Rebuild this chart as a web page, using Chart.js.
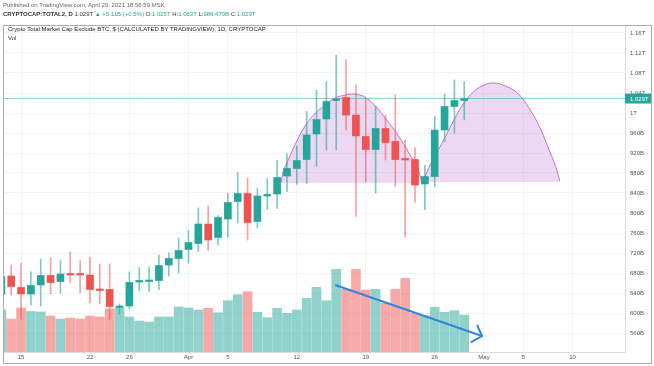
<!DOCTYPE html>
<html>
<head>
<meta charset="utf-8">
<script src="https://cdn.jsdelivr.net/npm/chart.js@4.4.1/dist/chart.umd.min.js"></script>
<style>
    body { margin: 0; background: #fff; font-family: "Liberation Sans", Arial, sans-serif; }
    #wrap { position: relative; width: 654px; height: 366px; overflow: hidden; }
    #chart { position: absolute; left: 0; top: 0; }
    .t { position: absolute; white-space: nowrap; line-height: 1; }
    .g { color: #26a69a; }
    #panel { position: absolute; left: 3px; top: 25px; width: 649px; height: 339px; box-sizing: border-box;
             border: 1px solid #a9acb3; pointer-events: none; }
</style>
</head>
<body>
<div id="wrap">
    <canvas id="chart" width="654" height="366"></canvas>
    <div id="panel"></div>
    <div class="t" style="left:3px;top:2px;font-size:6px;color:#666">Published on TradingView.com, April 29, 2021 18:56:59 MSK</div>
    <div class="t" style="left:3px;top:11px;font-size:6px;color:#333"><b>CRYPTOCAP:TOTAL2, D</b> 1.029T <span class="g">&#9650; +5.11B (+0.5%)</span> O:<span class="g">1.025T</span> H:<span class="g">1.063T</span> L:<span class="g">986.479B</span> C:<span class="g">1.029T</span></div>
    <div class="t" style="left:8px;top:26px;font-size:6px;color:#222">Crypto Total Market Cap Exclude BTC, $ (CALCULATED BY TRADINGVIEW), 1D, CRYPTOCAP</div>
    <div class="t" style="left:8px;top:35px;font-size:6px;color:#333">Vol</div>
</div>
<script>
// daily candles, Mar 13 - Apr 29 2021, prices in billions USD
const firstDay = '2021-03-13';
const opens  = [637, 674, 651, 638, 656, 675, 663, 679, 677, 676, 648, 647, 611, 614, 662, 663, 665, 696, 709, 727,
                739, 778, 751, 788, 823, 839, 783, 834, 838, 874, 889, 907, 958, 988, 1025, 1031, 996, 953, 927, 969,
                943, 909, 907, 858, 873, 966, 1013, 1025];
const highs  = [690, 696, 700, 683, 708, 710, 705, 722, 705, 712, 698, 698, 618, 682, 691, 692, 716, 720, 750, 765,
                810, 814, 795, 840, 881, 870, 849, 869, 905, 919, 934, 1003, 1046, 1063, 1116, 1107, 1056, 1029, 1013, 996,
                1036, 946, 931, 896, 993, 1038, 1066, 1063];
const lows   = [630, 636, 588, 616, 614, 638, 640, 661, 640, 620, 618, 586, 598, 608, 645, 643, 646, 674, 680, 700,
                723, 725, 736, 752, 780, 746, 770, 807, 809, 843, 857, 859, 893, 926, 926, 966, 793, 863, 840, 906,
                853, 752, 821, 806, 853, 943, 960, 986];
const closes = [673, 653, 638, 655, 675, 661, 678, 676, 676, 647, 645, 613, 614, 661, 665, 665, 695, 709, 725, 741,
                778, 746, 791, 821, 839, 781, 834, 836, 871, 889, 905, 956, 987, 1023, 1028, 996, 954, 927, 969, 941,
                907, 906, 856, 873, 966, 1013, 1025, 1029];
const volumes = [42, 33, 44, 40.5, 40, 36, 33, 34, 33, 36, 35, 43, 44, 35, 31, 30, 35, 35, 45, 44,
                 42, 43.7, 39.3, 51.3, 57.3, 60.3, 39.7, 34.3, 43.7, 38.7, 42, 53.7, 64.7, 51.3, 82.7, 62.7, 82.7, 62, 62.7, 48.7,
                 62.7, 73.7, 38.7, 36.3, 44.7, 39.7, 41.3, 37];
const lastClose = 1029;

// x axis ticks, in days from Mar 15
const tickDays = [0, 7, 11, 17, 21, 28, 35, 42, 47, 51, 56];
const tickLabels = ['15', '22', '26', 'Apr', '5', '12', '19', '26', 'May', '5', '10'];
const priceTicks = [560, 600, 640, 680, 720, 760, 800, 840, 880, 920, 960, 1000, 1040, 1080, 1120, 1160];

// drawn arcs (cup shapes): day, price
const cup1Days   = [26.4, 26.6, 26.9, 27.9, 28.9, 29.9, 30.9, 31.9, 32.9, 33.6, 34.4, 34.9, 35.9, 36.9, 37.9, 38.9, 39.9, 40.4, 40.7];
const cup1Prices = [860, 882, 896, 940, 976, 1000, 1016, 1030, 1036, 1038, 1036, 1032, 1016, 992, 966, 936, 902, 882, 860];
const cup2Days   = [40.8, 41.3, 41.8, 42.8, 43.9, 44.9, 45.8, 46.8, 47.8, 48.9, 50.4, 51.7, 52.7, 53.7, 54.3, 54.7];
const cup2Prices = [862, 886, 906, 942, 984, 1018, 1040, 1054, 1060, 1056, 1040, 1006, 970, 922, 892, 864];
// arrow over volume: day, volume
const arrowDays = [31.9, 46.8];
const arrowVols = [67, 16];
const headDays = [46.3, 46.8, 45.65];
const headVols = [27, 16, 9.7];

const UP = '#26a69a', DOWN = '#ef5350';
const base = new Date(firstDay + 'T00:00:00Z').getTime() + 2 * 86400000;
const days = opens.map((_, i) => Math.round((new Date(firstDay + 'T00:00:00Z').getTime() + i * 86400000 - base) / 86400000));
const isUp = opens.map((o, i) => closes[i] >= o);

const pts = (xs, ys) => xs.map((x, i) => ({ x: x, y: ys[i] }));

const lastLabel = {
    id: 'lastLabel',
    afterDraw(chart) {
        const ctx = chart.ctx;
        const area = chart.chartArea;
        const y = chart.scales.y.getPixelForValue(lastClose);
        ctx.save();
        ctx.fillStyle = UP;
        ctx.fillRect(area.right, y - 5, chart.width - area.right - 3, 10);
        ctx.fillStyle = '#fff';
        ctx.font = '6px "Liberation Sans", Arial, sans-serif';
        ctx.textBaseline = 'middle';
        ctx.fillText('1.029T', area.right + 5, y + 0.5);
        ctx.restore();
    }
};

const xMin = -1.73, xMax = 61.32;

new Chart(document.getElementById('chart'), {
    type: 'bar',
    data: {
        datasets: [
            {
                label: 'Vol',
                data: volumes.map((v, i) => ({ x: days[i], y: v })),
                yAxisID: 'yv',
                backgroundColor: isUp.map(u => u ? 'rgba(38,166,154,0.5)' : 'rgba(239,83,80,0.5)'),
                barThickness: 9,
                grouped: false,
                order: 10
            },
            {
                type: 'line',
                data: pts(cup1Days, cup1Prices),
                yAxisID: 'y',
                borderColor: 'rgba(156,39,176,0.6)',
                backgroundColor: 'rgba(156,39,176,0.18)',
                borderWidth: 1,
                pointRadius: 0,
                tension: 0.4,
                fill: { value: 860 },
                order: 8
            },
            {
                type: 'line',
                data: pts(cup2Days, cup2Prices),
                yAxisID: 'y',
                borderColor: 'rgba(156,39,176,0.6)',
                backgroundColor: 'rgba(156,39,176,0.18)',
                borderWidth: 1,
                pointRadius: 0,
                tension: 0.4,
                fill: { value: 862 },
                order: 8
            },
            {
                type: 'line',
                data: pts([xMin, xMax], [lastClose, lastClose]),
                yAxisID: 'y',
                borderColor: 'rgba(38,166,154,0.5)',
                borderWidth: 1,
                pointRadius: 0,
                order: 7
            },
            {
                label: 'wicks',
                data: lows.map((l, i) => ({ x: days[i], y: [l, highs[i]] })),
                yAxisID: 'y',
                backgroundColor: isUp.map(u => u ? 'rgba(38,166,154,0.6)' : 'rgba(239,83,80,0.55)'),
                barThickness: 1,
                grouped: false,
                order: 3
            },
            {
                label: 'bodies',
                data: opens.map((o, i) => ({ x: days[i], y: [o, closes[i]] })),
                yAxisID: 'y',
                backgroundColor: isUp.map(u => u ? UP : DOWN),
                barThickness: 7,
                minBarLength: 1.5,
                grouped: false,
                order: 2
            },
            {
                type: 'line',
                data: pts(arrowDays, arrowVols),
                yAxisID: 'yv',
                borderColor: '#2f86dc',
                borderWidth: 2,
                pointRadius: 0,
                order: 1
            },
            {
                type: 'line',
                data: pts(headDays, headVols),
                yAxisID: 'yv',
                borderColor: '#2f86dc',
                borderWidth: 2,
                pointRadius: 0,
                order: 1
            }
        ]
    },
    options: {
        responsive: false,
        animation: false,
        layout: { padding: { left: 4, top: 26, right: 3, bottom: 3 } },
        plugins: { legend: { display: false }, tooltip: { enabled: false } },
        scales: {
            x: {
                type: 'linear',
                min: xMin,
                max: xMax,
                offset: false,
                grid: { color: '#f0f3fa', drawTicks: false, offset: false },
                border: { color: '#dcdcdc' },
                afterBuildTicks: s => { s.ticks = tickDays.map(v => ({ value: v })); },
                afterFit: s => { s.height = 11; },
                ticks: {
                    autoSkip: false,
                    maxRotation: 0,
                    padding: 2,
                    color: '#555',
                    font: { size: 6, family: '"Liberation Sans", Arial, sans-serif' },
                    callback: (v, i) => tickLabels[i]
                }
            },
            y: {
                position: 'right',
                min: 522,
                max: 1174,
                grid: { color: '#f0f3fa', drawTicks: false },
                border: { color: '#dcdcdc' },
                afterBuildTicks: s => { s.ticks = priceTicks.map(v => ({ value: v })); },
                afterFit: s => { s.width = 26; },
                ticks: {
                    padding: 5,
                    color: '#555',
                    font: { size: 6, family: '"Liberation Sans", Arial, sans-serif' },
                    callback: v => v >= 1000 ? (v / 1000) + 'T' : v + 'B'
                }
            },
            yv: {
                display: false,
                min: 0,
                max: 326
            }
        }
    },
    plugins: [lastLabel]
});
</script>
</body>
</html>
